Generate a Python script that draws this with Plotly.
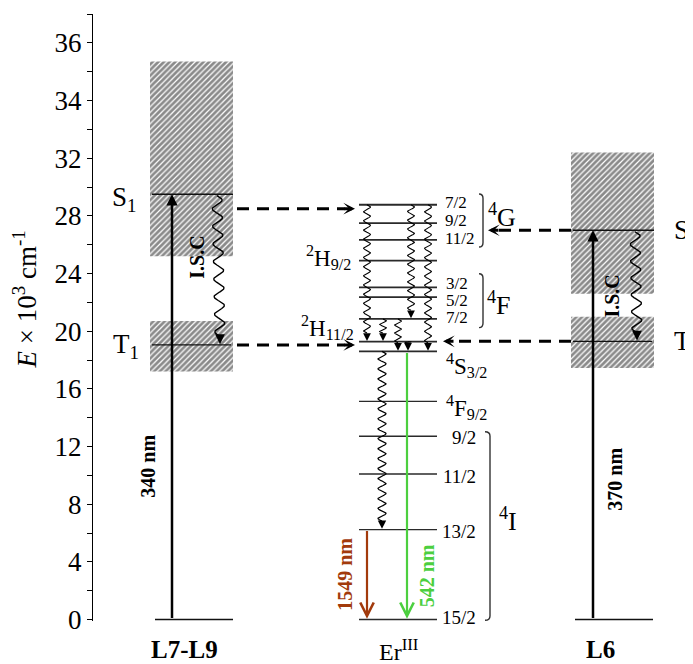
import numpy as np
import plotly.graph_objects as go

# ---------------- data (energies in axis units, x10^3 cm^-1) ----------------
y_tick_vals = [0, 4, 8, 12, 16, 20, 24, 28, 32, 36, 40]
y_tick_text = ["0", "4", "8", "12", "16", "20", "24", "28", "32", "34", "36"]
y_minor_vals = [2, 6, 10, 14, 18, 22, 26, 30, 34, 38, 42]

er_terms = ["4G7/2", "4G9/2", "4G11/2", "2H9/2", "4F3/2", "4F5/2", "4F7/2",
            "2H11/2", "4S3/2", "4F9/2", "4I9/2", "4I11/2", "4I13/2", "4I15/2"]
er_energy = [28.77, 27.5, 26.34, 24.89, 23.04, 22.37, 20.85,
             19.27, 18.6, 15.13, 12.71, 10.1, 6.24, 0.0]

lig_names = ["L7-L9", "L6"]
lig_S1 = [29.5, 27.0]
lig_T1 = [19.05, 19.3]
lig_S_band = [(25.2, 38.7), (22.6, 32.4)]
lig_T_band = [(17.2, 20.7), (17.45, 21.0)]
lig_exc_label = ["340 nm", "370 nm"]

transfer_left = [28.5, 19.05]     # L7-L9 -> Er dashed arrows
transfer_right = [27.0, 19.3]     # L6 -> Er dashed arrows

relax_pairs = [("4G7/2", "2H11/2"), ("4G7/2", "4F7/2"), ("4G7/2", "4S3/2"),
               ("4F7/2", "2H11/2"), ("4F7/2", "4S3/2"), ("2H11/2", "4S3/2"),
               ("4S3/2", "4I13/2")]

emission_from = ["4I13/2", "4S3/2"]
emission_label = ["1549 nm", "542 nm"]
emission_color = ["#a23a0c", "#4ccf3f"]

E = dict(zip(er_terms, er_energy))

# ---------------- layout constants (pixel-like x coordinates) ----------------
FONT = "Liberation Serif, Times New Roman, serif"
PXU = 14.42               # pixels per y unit
X_RANGE = (93, 693)
Y_RANGE = (-0.1, 42)
lig_box_x = [(150, 233), (571, 654)]
lig_ground_x = [(155, 233), (575, 653)]
lig_exc_x = [172, 593]
lig_isc_x = [(217, 220), (635, 637)]
er_x = (359, 437)
relax_x = [367, 411, 428, 383, 398, 408, 382]
relax_width = [1.1] * 6 + [1.2]
emission_x = [367, 407]

fig = go.Figure()
ann = []
shapes = []


def px(x):
    return (x - X_RANGE[0]) / (X_RANGE[1] - X_RANGE[0])


def py(y):
    return (y - Y_RANGE[0]) / (Y_RANGE[1] - Y_RANGE[0])


def text(x, y, s, size=22, xanchor="center", bold=False, color="black", angle=0):
    if bold:
        s = "<b>" + s + "</b>"
    ann.append(dict(x=px(x), y=py(y), xref="paper", yref="paper", text=s,
                    showarrow=False,
                    font=dict(family=FONT, size=size, color=color),
                    xanchor=xanchor, yanchor="middle", textangle=angle))


def arrow(x, y, ax, ay, width=2.5, head=2, size=1.0, color="black"):
    ann.append(dict(x=x, y=y, ax=ax, ay=ay, xref="x", yref="y", axref="x", ayref="y",
                    text="", showarrow=True, arrowhead=head, arrowwidth=width,
                    arrowsize=size, arrowcolor=color, standoff=0, startstandoff=0))


def hline(x0, x1, y, width=1.6, color="#222"):
    fig.add_trace(go.Scatter(x=[x0, x1], y=[y, y], mode="lines",
                             line=dict(color=color, width=width),
                             hoverinfo="skip", showlegend=False))


def hatch_box(x0, x1, y0, y1):
    fig.add_trace(go.Scatter(x=[x0, x1, x1, x0, x0], y=[y0, y0, y1, y1, y0],
                             mode="lines", fill="toself", line=dict(width=0),
                             fillcolor="white",
                             fillpattern=dict(shape="/", size=4, solidity=0.7,
                                              fgcolor="#151515", bgcolor="white"),
                             hoverinfo="skip", showlegend=False))


def wavy(x0, x1, e0, e1, period, amp, width=1.2):
    head_len = 0.6
    e_end = e1 + head_len
    length = (e0 - e_end) * PXU
    nper = max(1, round(length / period))
    t = np.linspace(0, 1, 300)
    ys = e0 - t * (e0 - e_end)
    xs = x0 + (x1 - x0) * t + amp * np.sin(2 * np.pi * nper * t)
    fig.add_trace(go.Scatter(x=xs, y=ys, mode="lines",
                             line=dict(color="black", width=width),
                             hoverinfo="skip", showlegend=False))
    arrow(x1, e1 + 0.05, x1, e_end, width=width, head=2, size=1.4)


# ---------------- ligands ----------------
for i in range(2):
    bx0, bx1 = lig_box_x[i]
    hatch_box(bx0, bx1, *lig_S_band[i])
    hatch_box(bx0, bx1, *lig_T_band[i])
for i in range(2):
    bx0, bx1 = lig_box_x[i]
    hline(bx0 + 2, bx1, lig_S1[i], width=1.3, color="#111")
    hline(bx0 + 2, bx1 - 2, lig_T1[i], width=1.3, color="#111")
    gx0, gx1 = lig_ground_x[i]
    hline(gx0, gx1, 0, width=1.5, color="#111")
    # excitation arrow
    arrow(lig_exc_x[i], lig_S1[i], lig_exc_x[i], 0, width=2.5, head=2, size=0.9)
    # ISC wavy
    xi0, xi1 = lig_isc_x[i]
    wavy(xi0, xi1, lig_S1[i] - 0.1, lig_T1[i], period=17, amp=5, width=1.4)

text(148, 10.6, lig_exc_label[0], size=20, bold=True, angle=-90)
text(615, 9.7, lig_exc_label[1], size=20, bold=True, angle=-90)
text(197, 25.1, "I.S.C", size=20, bold=True, angle=-90)
text(612, 22.4, "I.S.C", size=20, bold=True, angle=-90)
text(138, lig_S1[0] - 0.3, "S<sub>1</sub>", size=27, xanchor="right")
text(141, lig_T1[0] - 0.05, "T<sub>1</sub>", size=27, xanchor="right")
text(672, lig_S1[1] - 0.15, "S<sub>1</sub>", size=27, xanchor="left")
text(672, lig_T1[1], "T", size=27, xanchor="left")

# ---------------- Er levels ----------------
for term, e in zip(er_terms, er_energy):
    w = 1.8 if e > 17 else 1.4
    hline(er_x[0], er_x[1], e, width=w, color="#2a2a2a")

# relaxation wavy arrows
for (a, b), x, w in zip(relax_pairs, relax_x, relax_width):
    if a == "4S3/2":
        wavy(x, x, E[a], E[b], period=10, amp=4, width=w)
    else:
        wavy(x, x, E[a], E[b], period=9, amp=3.4, width=w)

# emission arrows
for k in range(2):
    e0 = E[emission_from[k]]
    arrow(emission_x[k], 0.05, emission_x[k], e0, width=2.2, head=5, size=1.2,
          color=emission_color[k])
text(345, 3.1, emission_label[0], size=20, bold=True, angle=-90, color=emission_color[0])
text(427, 3.0, emission_label[1], size=20, bold=True, angle=-90, color=emission_color[1])

# dashed energy transfer arrows
DASH = "12px,8px"
tips_left = [355, 355]
for e, tip in zip(transfer_left, tips_left):
    fig.add_trace(go.Scatter(x=[237, tip - 10], y=[e, e], mode="lines",
                             line=dict(color="black", width=3, dash=DASH),
                             hoverinfo="skip", showlegend=False))
    arrow(tip, e, tip - 12, e, width=3, head=3, size=0.65)
tips_right = [488, 443]
for e, tip in zip(transfer_right, tips_right):
    fig.add_trace(go.Scatter(x=[571, tip + 10], y=[e, e], mode="lines",
                             line=dict(color="black", width=3, dash=DASH),
                             hoverinfo="skip", showlegend=False))
    arrow(tip, e, tip + 12, e, width=3, head=3, size=0.65)

# Er labels
JS = 17
text(443, E["4G7/2"] + 0.15, "7/2", size=JS, xanchor="left")
text(443, E["4G9/2"] + 0.2, "9/2", size=JS, xanchor="left")
text(443, E["4G11/2"] + 0.1, "11/2", size=JS, xanchor="left")
text(444, E["4F3/2"] + 0.3, "3/2", size=JS, xanchor="left")
text(444, E["4F5/2"] - 0.25, "5/2", size=JS, xanchor="left")
text(444, E["4F7/2"] + 0.1, "7/2", size=JS, xanchor="left")
text(478, E["4I9/2"] - 0.1, "9/2", size=19, xanchor="right")
text(478, E["4I11/2"] - 0.2, "11/2", size=19, xanchor="right")
text(478, E["4I13/2"] - 0.15, "13/2", size=19, xanchor="right")
text(478, E["4I15/2"] + 0.15, "15/2", size=19, xanchor="right")
text(353, E["2H9/2"] + 0.2, "<sup>2</sup>H<sub>9/2</sub>", size=23, xanchor="right")
text(356, E["2H11/2"] + 1.0, "<sup>2</sup>H<sub>11/2</sub>", size=23, xanchor="right")
text(444, E["4S3/2"] - 1.0, "<sup>4</sup>S<sub>3/2</sub>", size=23, xanchor="left")
text(444, E["4F9/2"] - 0.45, "<sup>4</sup>F<sub>9/2</sub>", size=23, xanchor="left")
text(486, 28.0, "<sup>4</sup>G", size=26, xanchor="left")
text(485, 21.9, "<sup>4</sup>F", size=26, xanchor="left")
text(497, 6.95, "<sup>4</sup>I", size=26, xanchor="left")


def bracket(x0, x1, top, bot, r=0.3):
    path = (f"M {x0},{top} Q {x1},{top} {x1},{top - r} L {x1},{bot + r} "
            f"Q {x1},{bot} {x0},{bot}")
    shapes.append(dict(type="path", path=path, xref="x", yref="y",
                       line=dict(color="#333", width=1.4)))


bracket(479, 483, E["4G7/2"] + 0.75, E["4G11/2"] - 0.5)
bracket(479, 483, E["4F3/2"] + 0.94, E["4F7/2"] - 0.6)
bracket(485, 490, E["4I9/2"] + 0.32, E["4I15/2"] - 0.05)

# bottom names and axis title
text(184, -2.1, lig_names[0], size=25, bold=True)
text(398, -2.1, "Er<sup>III</sup>", size=24)
text(600, -2.1, lig_names[1], size=25, bold=True)
text(25, 22.2, "<i>E</i> × 10<sup>3</sup> cm<sup>-1</sup>", size=27, angle=-90)

# page body has an 8px margin: the figure box is shifted by (8, 8)
fig.update_layout(
    width=685, height=656,
    margin=dict(l=85, r=0, t=6, b=43),
    paper_bgcolor="white", plot_bgcolor="white",
    showlegend=False,
    xaxis=dict(range=list(X_RANGE), visible=False, fixedrange=True),
    yaxis=dict(range=list(Y_RANGE), tickmode="array", tickvals=y_tick_vals,
               ticktext=y_tick_text, ticks="outside", ticklen=5, tickwidth=1,
               tickcolor="black", showline=True, linecolor="black", linewidth=1,
               showgrid=False, zeroline=False,
               tickfont=dict(family=FONT, size=27, color="black"),
               minor=dict(tickmode="array", tickvals=y_minor_vals, ticks="outside",
                          ticklen=5, tickwidth=1, tickcolor="black", showgrid=False)),
    annotations=ann,
    shapes=shapes,
)

fig.write_html("out.html")
